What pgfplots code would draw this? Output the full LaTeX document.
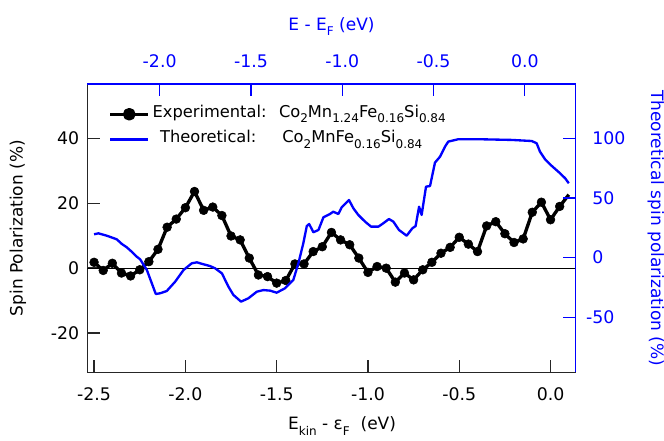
\documentclass[border=0pt]{standalone}
\usepackage{fontspec}
\setmainfont{DejaVu Sans}
\usepackage{pgfplots}
\pgfplotsset{compat=1.18}
\definecolor{tblue}{RGB}{0,0,255}
\newcommand{\sub}[1]{\raisebox{-0.33em}{\fontsize{9}{9}\selectfont #1}}
\begin{document}
\begin{tikzpicture}
\begin{axis}[
  name=main,
  scale only axis, width=366.3pt, height=216.4pt,
  xmin=-2.537, xmax=0.138, ymin=-32.1, ymax=56.7,
  axis x line*=bottom, axis y line*=left,
  axis line style={black!85, line width=1pt, -},
  xtick={-2.5,-2,-1.5,-1,-0.5,0}, xticklabels={-2.5,-2.0,-1.5,-1.0,-0.5,0.0},
  ytick={-20,0,20,40}, yticklabels={-20,0,20,40},
  xtick pos=left, ytick pos=left,
  tick align=inside, major tick length=9.4pt,
  tick style={black!85, line width=1pt},
  tick label style={font=\fontsize{13}{13}\selectfont},
  xticklabel style={anchor=base, inner sep=0pt, yshift=-20.8pt},
  yticklabel style={anchor=east, inner sep=0pt, xshift=-5.9pt},
  every axis x label/.style={at={(axis description cs:0.5,0)}, anchor=base, yshift=-43pt, xshift=7.9pt, font=\fontsize{12.75}{12.75}\selectfont},
  every axis y label/.style={at={(axis description cs:0,0.5)}, xshift=-52pt, rotate=90, anchor=center, font=\fontsize{12.75}{12.75}\selectfont},
  xlabel={E\sub{kin} - ε\sub{F}\ \ (eV)},
  ylabel={Spin Polarization (\%)},
  legend style={draw=none, fill=none, at={(axis description cs:0.043,0.851)}, anchor=west,
    inner sep=0pt, row sep=6pt, column sep=2pt, font=\fontsize{12.2}{12.2}\selectfont,
    nodes={inner sep=0pt, text height=9pt, text depth=4pt}},
  legend cell align=left,
]
\addplot[black, line width=0.75pt, forget plot] coordinates {(-2.537,0) (0.138,0)};
\addplot[black, line width=2.5pt, line join=round, mark=*, mark size=3.3pt,
  mark options={solid, line width=0.4pt}, mark indices={1,...,52},
  legend image code/.code={\draw[black, line width=2.5pt] (0pt,0pt)--(28.5pt,0pt); \fill[black] (14.25pt,0pt) circle[radius=3.5pt];}]
table {
x y
-2.50 1.8
-2.45 -0.7
-2.40 1.5
-2.35 -1.5
-2.30 -2.4
-2.25 -0.5
-2.20 2.0
-2.15 5.8
-2.10 12.6
-2.05 15.1
-2.00 18.6
-1.95 23.6
-1.90 17.8
-1.85 18.8
-1.80 16.2
-1.75 9.9
-1.70 8.7
-1.65 3.1
-1.60 -2.1
-1.55 -2.6
-1.50 -4.6
-1.45 -3.8
-1.40 1.3
-1.35 1.3
-1.30 5.1
-1.25 6.6
-1.20 11.0
-1.15 8.7
-1.10 7.2
-1.05 3.1
-1.00 -1.3
-0.95 0.5
-0.90 0.0
-0.85 -4.3
-0.80 -1.5
-0.75 -3.6
-0.70 -0.5
-0.65 1.8
-0.60 4.6
-0.55 6.4
-0.50 9.5
-0.45 7.4
-0.40 5.1
-0.35 13.0
-0.30 14.3
-0.25 10.6
-0.20 7.9
-0.15 9.0
-0.10 17.2
-0.05 20.3
0.00 14.9
0.05 19.0
0.10 22.6
};
\addlegendentry{\makebox[94.8pt][l]{Experimental:}Co\sub{2}Mn\sub{1.24}Fe\sub{0.16}Si\sub{0.84}}
\addlegendimage{legend image code/.code={\draw[tblue, line width=1.75pt] (0pt,0pt)--(28.5pt,0pt);}}
\addlegendentry{\hspace*{5.6pt}\makebox[91.7pt][l]{Theoretical:}Co\sub{2}MnFe\sub{0.16}Si\sub{0.84}}
\end{axis}
\begin{axis}[
  scale only axis, width=366.3pt, height=216.4pt,
  xmin=-2.396, xmax=0.279, ymin=-96.1, ymax=145.5,
  axis x line*=top, axis y line*=right,
  axis line style={tblue, line width=1pt, -},
  xtick={-2,-1.5,-1,-0.5,0}, xticklabels={-2.0,-1.5,-1.0,-0.5,0.0},
  ytick={-50,0,50,100}, yticklabels={\llap{-}50,0,50,100},
  xtick pos=right, xticklabel pos=right, ytick pos=right, yticklabel pos=right,
  tick align=inside, major tick length=9.4pt,
  tick style={tblue, line width=1pt},
  tick label style={font=\fontsize{13}{13}\selectfont, text=tblue},
  xticklabel style={anchor=base, inner sep=0pt, yshift=12.2pt},
  yticklabel style={anchor=west, inner sep=0pt, xshift=12.2pt},
  every axis x label/.style={at={(axis description cs:0.5,1)}, anchor=base, yshift=40.3pt, text=tblue, font=\fontsize{12.75}{12.75}\selectfont},
  every axis y label/.style={at={(axis description cs:1,0.5)}, xshift=60pt, rotate=-90, anchor=center, text=tblue, font=\fontsize{12.75}{12.75}\selectfont},
  xlabel={E - E\sub{F} (eV)},
  ylabel={Theoretical spin polarization (\%)},
]
\addplot[tblue, line width=1.75pt, line join=round] table {
x y
-2.359 19.6
-2.335 20.4
-2.289 18.4
-2.235 15.4
-2.207 11.5
-2.180 8.7
-2.153 5.0
-2.125 0.8
-2.107 -1.3
-2.070 -10.3
-2.043 -21.4
-2.021 -30.4
-1.997 -29.8
-1.961 -27.9
-1.915 -20.1
-1.869 -10.3
-1.824 -4.7
-1.796 -3.9
-1.760 -5.5
-1.724 -7.0
-1.696 -8.9
-1.659 -13.1
-1.623 -24.3
-1.596 -31.2
-1.554 -36.8
-1.514 -34.0
-1.468 -28.5
-1.432 -27.1
-1.395 -27.6
-1.359 -29.3
-1.313 -25.6
-1.268 -18.7
-1.240 -4.7
-1.213 12.1
-1.194 26.5
-1.181 28.2
-1.158 21.3
-1.130 23.2
-1.103 33.8
-1.067 36.6
-1.049 38.5
-1.021 36.6
-1.003 42.2
-0.963 48.3
-0.939 41.4
-0.912 35.8
-0.875 30.2
-0.842 26.0
-0.802 26.0
-0.775 28.8
-0.744 32.4
-0.720 30.2
-0.689 23.2
-0.647 18.4
-0.616 24.6
-0.598 26.5
-0.579 42.7
-0.565 35.8
-0.541 59.5
-0.519 60.0
-0.492 79.6
-0.464 84.6
-0.437 93.0
-0.419 97.2
-0.364 99.2
-0.254 99.2
-0.071 98.6
0.038 97.7
0.065 95.8
0.083 88.8
0.111 82.4
0.148 76.8
0.193 70.7
0.221 66.5
0.241 62.3
};
\end{axis}
\pgfresetboundingbox
\path (main.south west) ++(-65.5pt,-51.4pt) rectangle ++(498pt,330.75pt);
\end{tikzpicture}
\end{document}
